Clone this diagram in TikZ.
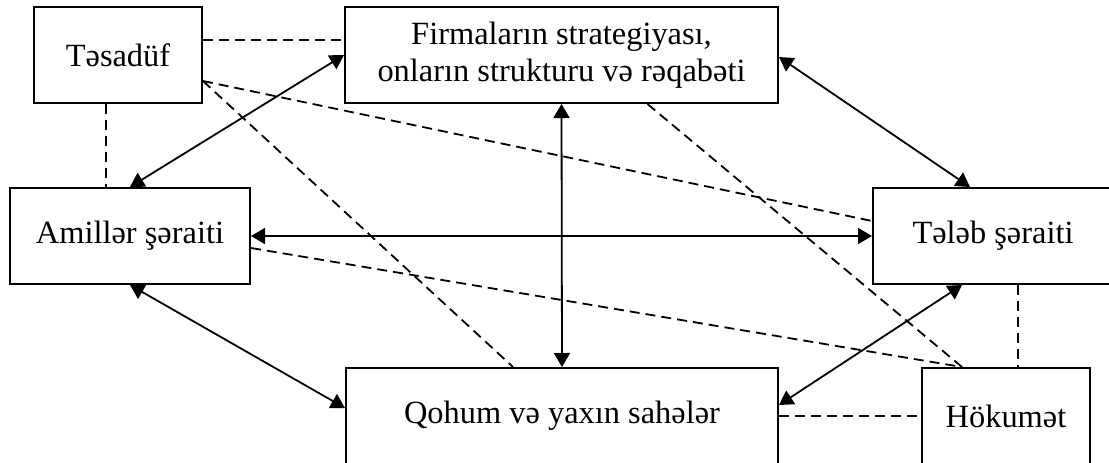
\documentclass[tikz,border=0pt]{standalone}
\usepackage{fontspec}
\setmainfont{Liberation Serif}
\usetikzlibrary{arrows.meta,calc,positioning}

\begin{document}
\begin{tikzpicture}[x=0.5pt,y=-0.5pt,
  bx/.style={draw,line width=1pt,minimum width=#1,minimum height=48pt,inner sep=0pt,
             align=center,font=\fontsize{16.2}{18.6}\selectfont},bx/.default=84pt,
  dl/.style={line width=0.9pt,dash pattern=on 5pt off 3pt},
  ar/.style={line width=0.9pt,{Triangle[length=7pt,width=8pt]}-{Triangle[length=7pt,width=8pt]}}]
  \useasboundingbox (0,0) rectangle (1109,462);
  \clip (0,0) rectangle (1109,462);
  \node[bx] (tes) at (118,55) {Təsadüf};
  \node[bx=216.5pt] (firm) at (561.5,55) {Firmaların strategiyası,\\onların strukturu və rəqabəti};
  \node[bx=120pt] (amil) at (130,236) {Amillər şəraiti};
  \node[bx=120pt] (tel) at (993,236) {Tələb şəraiti};
  \node[bx=216pt] (qoh) at (562,416) {Qohum və yaxın sahələr};
  \node[bx] (hok) at (1006,416) {Hökumət};
  % dashed links
  \coordinate (tv) at ($(tes.south)+(-12,0)$);
  \coordinate (tc) at ($(tes.east)+(0,26)$);
  \coordinate (hn) at ($(hok.north)+(-44,0)$);
  \coordinate (tb) at ($(tel.south)+(25,0)$);
  \draw[dl] ($(tes.east)+(0,-15)$) -- ($(firm.west)+(0,-15)$);
  \draw[dl] (tv) -- (tv |- amil.north);
  \draw[dl] (tc) -- ($(tel.west)+(0,-15)$);
  \draw[dl] (tc) -- ($(qoh.north)+(-49,0)$);
  \draw[dl] ($(firm.south)+(86,0)$) -- (hn);
  \draw[dl] ($(amil.east)+(0,12)$) -- (hn);
  \draw[dl] (tb) -- (tb |- hok.north);
  \draw[dl] (qoh) -- (hok);
  % two-way arrows
  \foreach \a/\b in {firm.west/amil.north,firm.south/qoh.north,amil.east/tel.west}
    \draw[ar] (\a) -- (\b);
  \draw[ar] ($(firm.east)+(0,2)$) -- ($(tel.north)+(-23,0)$);
  \draw[ar] (amil.south) -- ($(qoh.west)+(0,-8)$);
  \draw[ar] ($(tel.south)+(-31,0)$) -- ($(qoh.east)+(0,-11)$);
\end{tikzpicture}
\end{document}
